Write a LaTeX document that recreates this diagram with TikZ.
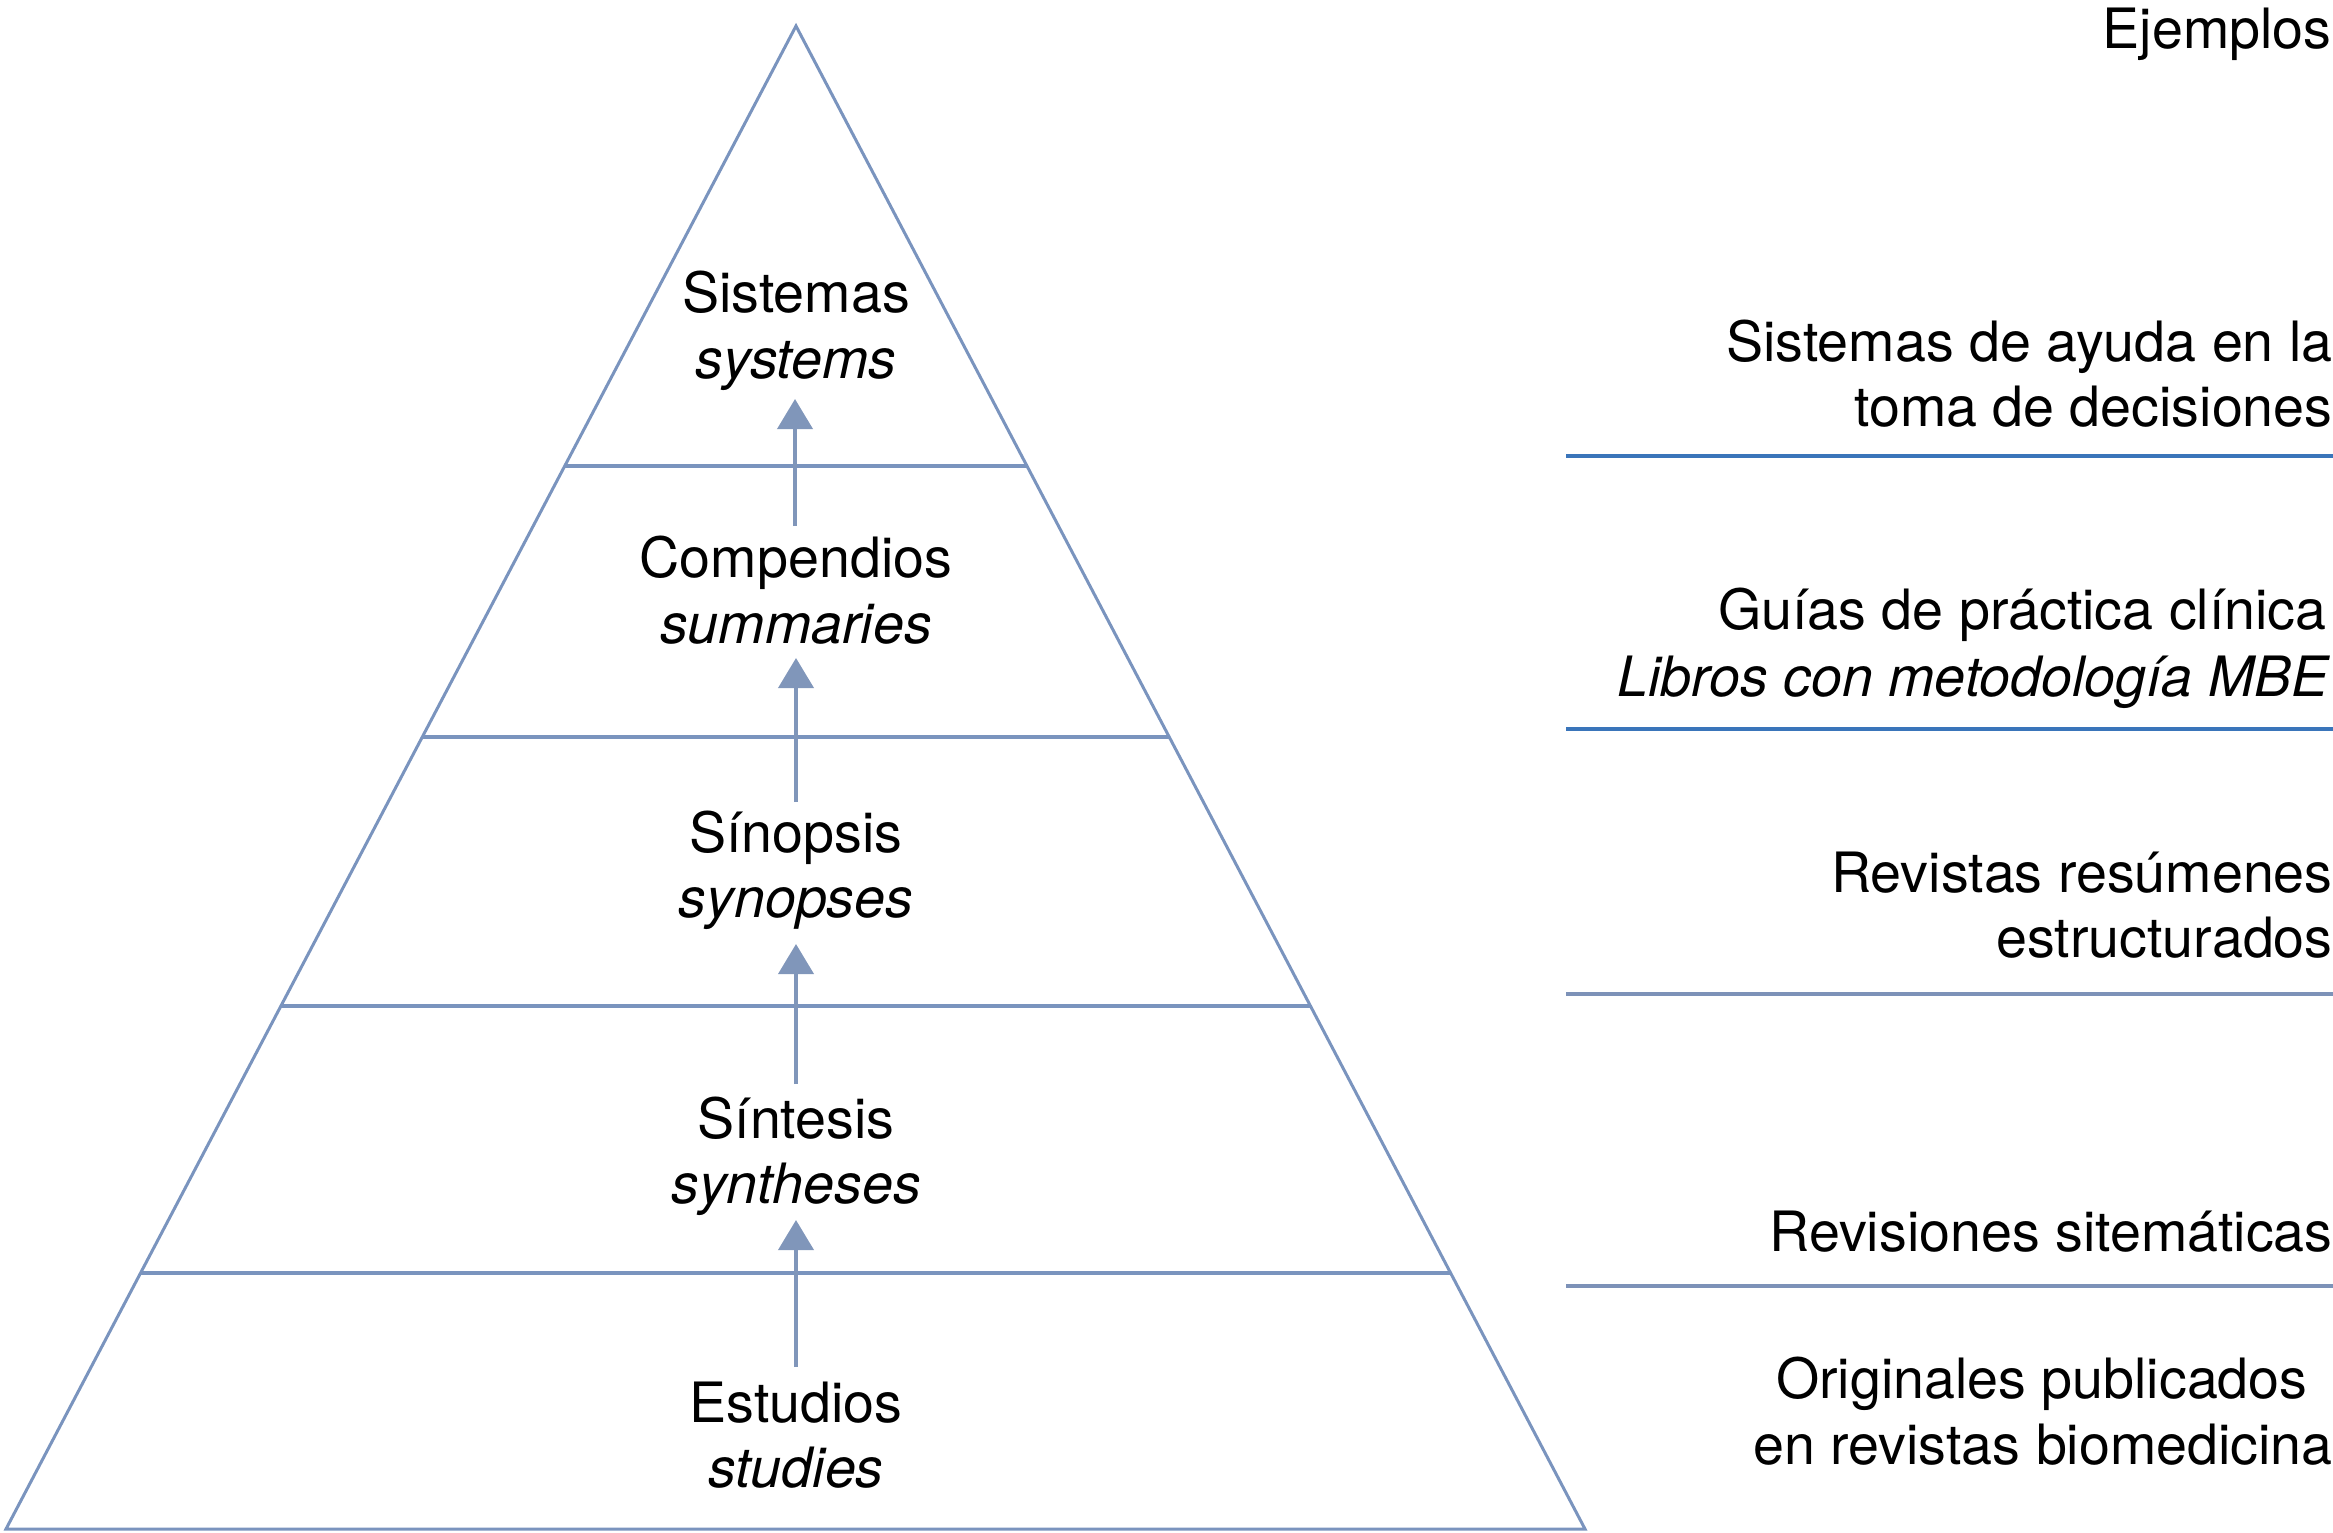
\documentclass[tikz,border=0pt]{standalone}
\usepackage{fontspec}
\setmainfont{TeX Gyre Heros}
\usetikzlibrary{arrows.meta,calc}
\definecolor{pyr}{RGB}{122,148,190}
\definecolor{arr}{RGB}{128,150,186}
\definecolor{bline}{RGB}{58,117,186}
\definecolor{gline}{RGB}{125,146,184}
\begin{document}
\begin{tikzpicture}[x=0.5pt,y=-0.5pt,
 lbl/.style={inner sep=0pt, font=\fontsize{27.8pt}{33pt}\selectfont, anchor=base},
 rlbl/.style={lbl, anchor=base east},
 pyrline/.style={draw=pyr, line width=1.5pt},
 tierline/.style={draw=pyr, line width=1.6pt},
 uparrow/.style={draw=arr, line width=2pt, -{Triangle[width=17.5pt,length=15pt]}},
 exline/.style={line width=1.7pt}]
\useasboundingbox (0,0) rectangle (2333,1532);
% pyramid
\coordinate (apex) at (796,26);
\coordinate (bl) at (6,1529);
\coordinate (br) at (1585,1529);
\draw[pyrline, line join=miter] (apex) -- (bl) -- (br) -- cycle;
% tier lines
\coordinate (t1l) at ($(apex)!0.2927!(bl)$); \coordinate (t1r) at ($(apex)!0.2927!(br)$);
\coordinate (t2l) at ($(apex)!0.4731!(bl)$); \coordinate (t2r) at ($(apex)!0.4731!(br)$);
\coordinate (t3l) at ($(apex)!0.6520!(bl)$); \coordinate (t3r) at ($(apex)!0.6520!(br)$);
\coordinate (t4l) at ($(apex)!0.8297!(bl)$); \coordinate (t4r) at ($(apex)!0.8297!(br)$);
\draw[tierline] (t1l) -- (t1r);
\draw[tierline] (t2l) -- (t2r);
\draw[tierline] (t3l) -- (t3r);
\draw[tierline] (t4l) -- (t4r);
% pyramid labels
\node[lbl] (sis) at (796,312) {Sistemas};
\node[lbl] (sisE) at (796,378) {\itshape systems};
\node[lbl] (com) at (796,577) {Compendios};
\node[lbl] (comE) at (796,643) {\itshape summaries};
\node[lbl] (sin) at (796,852) {Sínopsis};
\node[lbl] (sinE) at (796,917) {\itshape synopses};
\node[lbl] (snt) at (796,1138) {Síntesis};
\node[lbl] (sntE) at (796,1203) {\itshape syntheses};
\node[lbl] (est) at (796,1422) {Estudios};
\node[lbl] (estE) at (796,1487) {\itshape studies};
% arrows
\coordinate (a1s) at (795,526); \coordinate (a1e) at (795,399);
\coordinate (a2s) at (796,802); \coordinate (a2e) at (796,658);
\coordinate (a3s) at (796,1084); \coordinate (a3e) at (796,944);
\coordinate (a4s) at (796,1367); \coordinate (a4e) at (796,1220);
\draw[uparrow] (a1s) -- (a1e);
\draw[uparrow] (a2s) -- (a2e);
\draw[uparrow] (a3s) -- (a3e);
\draw[uparrow] (a4s) -- (a4e);
% examples column
\node[rlbl] (ej) at (2332,48) {Ejemplos};
\node[rlbl] (ex1a) at (2333,361) {Sistemas de ayuda en la};
\node[rlbl] (ex1b) at (2333,426) {toma de decisiones};
\node[rlbl] (ex2a) at (2327,629) {Guías de práctica clínica};
\node[rlbl] (ex2b) at (2329,696) {\itshape Libros con metodología MBE};
\node[rlbl] (ex3a) at (2333,892) {Revistas resúmenes};
\node[rlbl] (ex3b) at (2333,957) {estructurados};
\node[rlbl] (ex4a) at (2333,1251) {Revisiones sitemáticas};
\node[rlbl] (ex5a) at (2308,1398) {Originales publicados};
\node[rlbl] (ex5b) at (2333,1464) {en revistas biomedicina};
\coordinate (s1l) at (1566,456); \coordinate (s1r) at (2333,456);
\coordinate (s2l) at (1566,729); \coordinate (s2r) at (2333,729);
\coordinate (s3l) at (1566,994); \coordinate (s3r) at (2333,994);
\coordinate (s4l) at (1566,1286); \coordinate (s4r) at (2333,1286);
\draw[exline, draw=bline] (s1l) -- (s1r);
\draw[exline, draw=bline] (s2l) -- (s2r);
\draw[exline, draw=gline] (s3l) -- (s3r);
\draw[exline, draw=gline] (s4l) -- (s4r);
\end{tikzpicture}
\end{document}
